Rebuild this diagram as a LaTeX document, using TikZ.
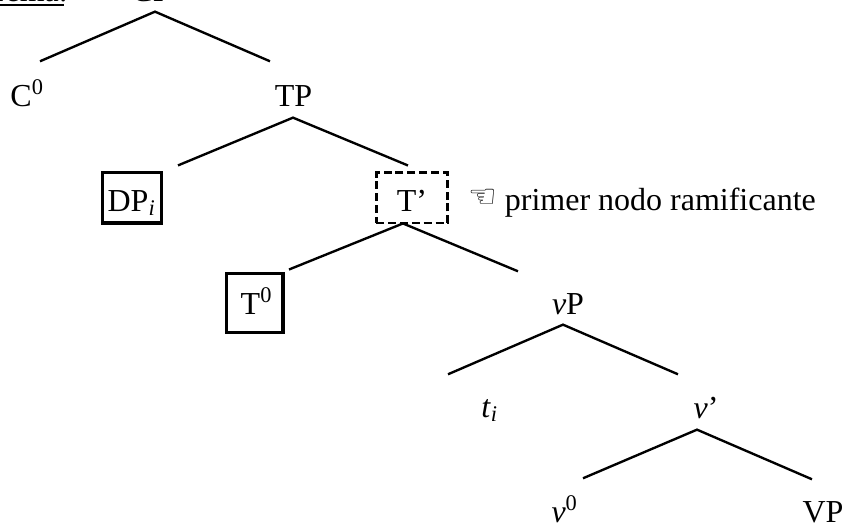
\documentclass[tikz,border=0pt]{standalone}
\usepackage{fontspec}
\setmainfont{Liberation Serif}
\newfontfamily\handfont{DejaVu Sans}
\begin{document}
\begin{tikzpicture}[
                  x = 0.3125pt,
                  y = -0.3125pt,
      label/.style = {anchor=base, inner sep=0pt, text height=11.9pt, text depth=3.75pt},
     branch/.style = {draw, line width=0.74pt},
      boxed/.style = {draw, line width=0.95pt, inner xsep=1.6pt},
     dotbox/.style = {draw, line width=0.9pt, dash pattern=on 2.5pt off 1.2pt, minimum width=22.3pt},
                   ]
\useasboundingbox (0,0) rectangle (846,522);
\clip (0,0) rectangle (846,522);
\node[label] (title) at (28,1) {\rlap{\raisebox{-1.6pt}{\rule{23.8pt}{.7pt}}}Tema:};
\node[label] (CP) at (151,1) {CP};
\node[label] (Czero) at (27.5,106) {C\textsuperscript{0}};
\node[label] (TP) at (293.5,106) {TP};
\node[label,boxed] (DP) at (132,211) {DP\textsubscript{\textit{i}}\hspace{1.6pt}};
\node[label,dotbox] (Tbar) at (412,211) {T’};
\node[label] (note) at (642,210) {\raisebox{.9pt}{\handfont\fontsize{10}{10}\selectfont ☜} primer nodo ramificante};
\node[label,boxed,text height=12.8pt,text depth=5.9pt,minimum width=17.8pt] (Tzero) at (254.5,314) {\hspace{1.5pt}T\textsuperscript{0}};
\node[label] (vP) at (568,314) {\textit{v}P};
\node[label] (ti) at (490,417) {\textit{t}\textsubscript{\textit{i}}};
\node[label] (vbar) at (706,418) {\textit{v}’};
\node[label] (vzero) at (565,522) {\textit{v}\textsuperscript{0}};
\node[label] (VP) at (823,522) {VP};
% branches
\draw[branch] ([shift={(12.5,-6)}]Czero.north) -- ([shift={(4,-2)}]CP.south) -- ([shift={(-23.5,-6)}]TP.north);
\draw[branch] ([shift={(46,-6)}]DP.north) -- ([shift={(-.5,-1)}]TP.south) -- ([shift={(-4,-6)}]Tbar.north);
\draw[branch] ([shift={(34.5,-2)}]Tzero.north) -- ([shift={(-9,-1)}]Tbar.south) -- ([shift={(-50,-4)}]vP.north);
\draw[branch] ([shift={(-42,-4)}]ti.north) -- ([shift={(-5,-2)}]vP.south) -- ([shift={(-28,-5)}]vbar.north);
\draw[branch] ([shift={(18,-5)}]vzero.north) -- ([shift={(-9,-1)}]vbar.south) -- ([shift={(-11,-4)}]VP.north);
\end{tikzpicture}
\end{document}
